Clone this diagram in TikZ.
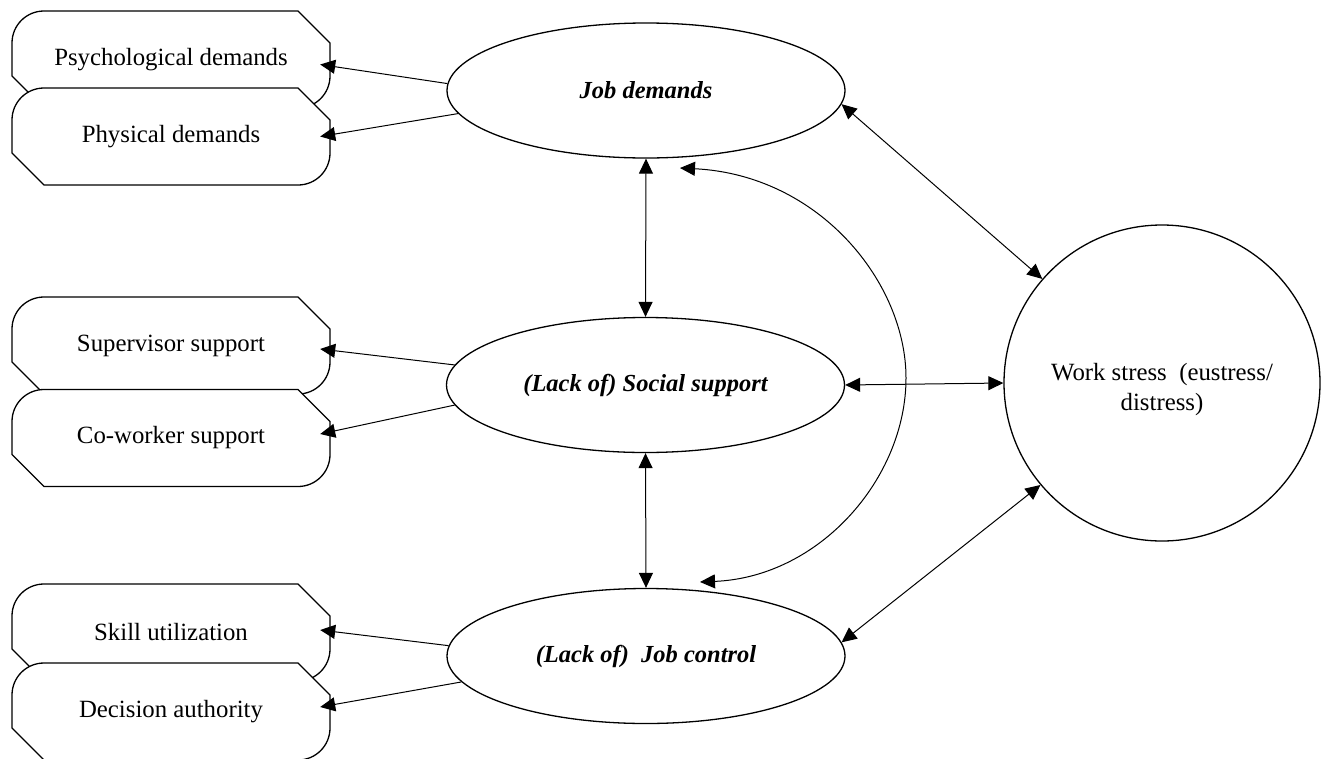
\documentclass[tikz,border=0pt]{standalone}
\usepackage{fontspec}
\setmainfont{Liberation Serif}
\usetikzlibrary{arrows.meta,shapes.geometric}

% Tag-shaped box: rounded top-left and bottom-right corners,
% cut top-right and bottom-left corners; text node #1 sits inside.
\newcommand\tagbox[3]{%
  \begin{scope}[shift={#2}]
    \path[tagline] (-159,-16.5) .. controls (-159,-34.2) and (-144.7,-48.5) .. (-127,-48.5)
      -- (127,-48.5) -- (159,-16.5) -- (159,16.5)
      .. controls (159,34.2) and (144.7,48.5) .. (127,48.5)
      -- (-127,48.5) -- (-159,16.5) -- cycle;
    \node[tagtext] (#1) at (0,0) {#3};
  \end{scope}}

\begin{document}
\begin{tikzpicture}[x=1pt,y=-1pt,
  every node/.style={font=\fontsize{24.8}{30}\selectfont},
  factor/.style={ellipse, draw, line width=1.3pt, fill=white,
    minimum width=398pt, minimum height=135pt, inner sep=0pt,
    font=\fontsize{24.5}{30}\selectfont\bfseries\itshape},
  outcome/.style={circle, draw, line width=1.3pt, minimum size=316pt, inner sep=0pt},
  tagtext/.style={minimum width=298pt, minimum height=97pt, inner sep=0pt},
  tagline/.style={draw, line width=1.3pt, fill=white},
  link/.style={-{Triangle[length=15pt,width=14pt]}, line width=1pt},
  twoway/.style={{Triangle[length=15pt,width=14pt]}-{Triangle[length=15pt,width=14pt]}, line width=1pt},
]
\useasboundingbox (0,0) rectangle (1327,758);

% indicator boxes
\tagbox{psy}{(171,59.5)}{Psychological demands}
\tagbox{phys}{(171,136.5)}{Physical demands}
\tagbox{sup}{(171,345.5)}{Supervisor support}
\tagbox{cow}{(171,438)}{Co-worker support}
\tagbox{skill}{(171,632.5)}{Skill utilization}
\tagbox{dec}{(171,711.5)}{Decision authority}

% latent factors
\node[factor] (jd) at (646,90.5) {Job demands};
\node[factor] (ss) at (645.5,385) {(Lack of) Social support};
\node[factor] (jc) at (646,656) {(Lack of)\ \ Job control};

% outcome
\node[outcome] (ws) at (1162,383) {};
\node[align=center] (wstext) at (1162,390) {Work stress\ \ (eustress/\\distress)};

% factor -> indicator links
\draw[link] (jd.178) -- ([yshift=-5pt]psy.east);
\draw[link] (jd.187) -- (phys.east);
\draw[link] (ss.174) -- ([yshift=-3.5pt]sup.east);
\draw[link] (ss.186) -- ([yshift=4pt]cow.east);
\draw[link] (jc.177.4) -- ([yshift=2.5pt]skill.east);
\draw[link] (jc.188) -- ([yshift=4.5pt]dec.east);

% correlations between factors
\draw[twoway] (jd.south) -- (ss.north);
\draw[twoway] (ss.south) -- (jc.north);
\coordinate (arcTop) at (680,168);
\coordinate (arcMid) at (906,378);
\coordinate (arcBot) at (700,582);
\draw[twoway] (arcTop) .. controls +(140,7) and +(0,-95) .. (arcMid)
  .. controls +(0,100) and +(120,-5) .. (arcBot);

% factor <-> work stress
\draw[twoway] (jd.-4) -- (ws.139);
\draw[twoway] (ss.east) -- (ws.west);
\draw[twoway] (jc.4) -- (ws.220);
\end{tikzpicture}
\end{document}
